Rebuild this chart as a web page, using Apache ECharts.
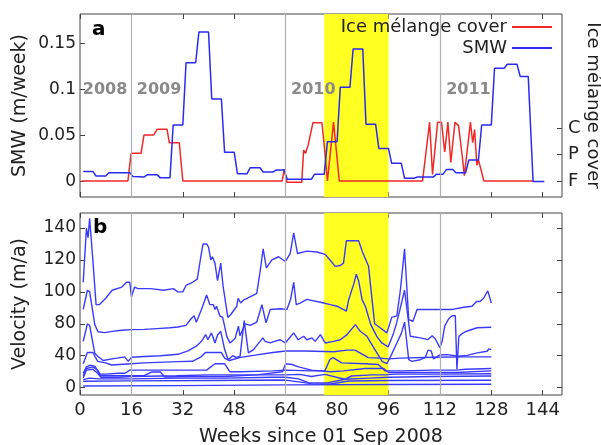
<!DOCTYPE html>
<html>
<head>
<meta charset="utf-8">
<script src="https://cdn.jsdelivr.net/npm/echarts@6/dist/echarts.min.js"></script>
<style>
  html, body { margin: 0; padding: 0; background: #fff; }
  #chart { width: 601px; height: 445px; }
</style>
</head>
<body>
<div id="chart"></div>
<script>
// axis ticks and annotations
const weekTicks = [0, 16, 32, 48, 64, 80, 96, 112, 128, 144]
const smwTicks = [0, 0.05, 0.1, 0.15]
const coverTicks = [0, 1, 2]
const coverLabels = ['F', 'P', 'C']
const velTicks = [0, 40, 80, 100, 120, 140]
const yearLines = [16, 64, 112]
const meltWeeks = [76, 96]
const yearLabels = ['2008', '2009', '2010', '2011']
const yearLabelWeeks = [7.8, 24.6, 72.6, 120.9]

// panel a: submarine melt (m/week) and ice melange cover (F=0, P=1, C=2)
const smw = [[1,0.011],[4,0.011],[5,0.006],[8,0.006],[9,0.0095],[15.5,0.0095],[16.5,0.0055],[20,0.005],[21,0.0075],[24,0.0075],[25,0.004],[28,0.004],[29,0.0614],[32,0.0614],[33,0.129],[36,0.129],[37,0.1625],[40,0.1625],[41,0.0897],[44,0.0897],[45,0.0317],[48,0.0317],[49,0.0085],[52,0.0085],[53,0.015],[56,0.015],[57,0.0103],[60,0.0103],[61,0.0125],[63.5,0.0125],[64.5,0.0024],[72,0.0024],[73,0.008],[76,0.008],[77,0.0433],[80,0.0433],[81,0.1024],[84,0.1024],[85,0.144],[88,0.144],[89,0.0622],[92,0.0622],[93,0.036],[96,0.036],[97,0.0198],[100,0.0198],[101,0.0035],[104,0.0035],[105,0.005],[110,0.005],[111,0.008],[113,0.008],[114,0.013],[116,0.013],[117,0.0096],[120,0.0096],[121,0.0234],[124,0.0234],[125,0.0614],[128,0.0614],[129,0.123],[132,0.123],[133,0.1274],[136,0.1274],[137,0.114],[139.5,0.114],[141,0],[144.5,0]]
const cover = [[0.5,0],[14.9,0],[15.9,1.05],[19,1.05],[19.9,1.74],[22.9,1.74],[24,1.96],[27.1,1.96],[27.8,1.45],[30.9,1.45],[32,0],[62.9,0],[63.6,0.45],[64.4,-0.05],[69,-0.05],[69.6,1.17],[70.2,1.05],[71,1.36],[72.5,2.21],[75.3,2.21],[76.2,1.1],[77,0],[78.9,2.23],[80.7,0],[106.6,0],[108.8,2.23],[109.7,0.25],[111.3,2.23],[112.5,2.23],[113.5,1.1],[114.5,2.23],[115.4,0.7],[116.7,2.23],[117.8,2.1],[119,0.9],[119.6,0.2],[121.5,2.23],[122.2,1.45],[122.8,1.95],[123.5,0.6],[124,0.8],[125.7,0],[141,0]]

// panel b: velocity (m/a) of individual points
const vel1 = [[1,106],[2,140],[2.5,134],[3,146],[4,120],[5,92],[6,92],[8,96],[10,101],[13,103],[14.5,106],[15.5,106],[16,97],[17,103],[18,102],[22,102],[26,101],[29,102],[30.5,100],[32,100],[33,104],[35,106],[36.5,108],[37.6,122],[38.3,130],[39.4,130],[40,128],[40.7,120],[41.2,122],[42,118],[42.8,107],[43.8,118],[44.5,104],[46,84],[47,86],[48.8,91],[49.2,96],[50,93],[51,95],[54,98],[55,99],[56,112],[57,127],[58,115],[59.7,120],[61.8,122],[63.9,119],[65.4,124],[66.5,137],[67.7,124],[70.6,125.5],[73.7,125],[76.3,123.5],[77.8,120],[79.4,116],[81,116.5],[82,118],[82.9,132],[86.7,132],[88,124.5],[89.8,116],[90.9,95],[91.7,80],[93.4,75],[95.5,68.6],[97,84],[98.6,85],[99.7,101],[101,127],[102.3,82.6],[103.6,81.6],[104.9,89],[116,89],[119.4,90.4],[122,91],[123.4,94],[124.5,94],[125.6,96],[126.9,100.6],[128,93]]
const vel2 = [[1,89],[2.3,101],[3,100],[4.6,79],[5.6,70],[7.7,69],[10,70.5],[13,72],[16,72.7],[20,73],[24,74],[28,75],[30.5,76],[33,78],[34.5,83],[35.5,85],[36.2,81],[37.8,89],[39.4,98],[40.4,92],[41.5,92],[42,89],[42.5,91],[43.5,85],[44.4,84],[45.7,64],[46.7,56],[48.3,62],[49.3,77],[49.8,65],[51.4,80],[53,78],[55,81],[56.6,92],[57.9,80.6],[59.2,89],[62.3,89.4],[64.4,89],[65.5,95],[66.5,106],[67.3,92],[68.5,93],[70.6,95.3],[74.8,93.5],[77.9,92],[80,91],[82.9,88],[83.6,95],[85.2,105],[86,111],[86.7,107],[87.8,95],[88.8,91],[90.5,79],[92.4,64],[93.9,56],[95.9,51],[97.6,68.6],[98.6,81],[99.7,90],[101,101],[102.8,64.4],[105.9,62.3],[108.3,60.2],[109.6,65],[110.6,61],[112,50],[112.7,58],[113.5,77],[114.7,83],[115.8,85],[116.8,85],[117.3,23],[117.9,64],[119,68],[120.5,71],[123.6,75],[128,75.7]]
const vel3 = [[1,58],[2.3,80],[3,78],[4.6,43],[5.6,39],[7.2,34],[10,36],[13.9,38.5],[15,33],[16,38],[20,39],[25,40],[30.5,41.8],[33.6,46],[36.2,52],[37.8,58],[39.1,66.5],[39.8,60],[40.9,68.6],[41.5,62],[42,56],[42.8,66],[43.8,70.6],[45,48],[46.1,35],[47.5,40],[48.5,38],[49.8,39],[51.1,82],[52.4,43.5],[54,47.7],[56.9,62.3],[57.6,58],[59.2,56],[60.5,58],[62.3,60],[63.9,56],[66.5,68.6],[67.9,60],[69.6,64.4],[70.6,60],[72.2,62.3],[73.2,58],[74.8,66.5],[76.3,56],[78.9,58],[81,60],[83.1,66.5],[85.7,79],[87.2,70.6],[89.3,64.4],[90.5,56],[92.4,43.5],[94,33],[95.5,30],[97,42],[98.5,55],[100,68],[101,81],[102.3,35],[103.3,33],[105.9,35],[107.5,38],[108.3,47],[109.3,46],[110,36],[112,41],[114.2,41.4],[117.9,39.3],[120.5,40.5],[123.6,43.5],[126.7,45.6],[127.2,48.5],[128,47.7]]
const vel4 = [[1,30],[2.3,44],[4,44],[5.5,33],[8,31],[9.8,28.4],[16,30],[20,31],[30.5,32.6],[35,33],[37.8,39],[39,44],[44,44],[45,37],[46.5,34],[50,38],[55,41],[60,44],[64,46],[70,46],[79,45],[83,47],[85.6,47],[89.7,37.6],[93.4,37],[96,36],[99.6,37],[110,38],[120,38.5],[128,38.5]]
const vel5 = [[1,18],[2,26],[3,28],[4.6,27],[6.1,17],[8,17],[12,18],[14,18],[15.5,22],[20,22],[30,22],[37,22],[39.4,22],[42,30],[45,30],[46.6,20],[50,20],[60,21],[64,22],[72,21],[76.2,21],[77.8,35.5],[78.8,37.6],[81.4,31],[88.7,30],[92.8,29],[95,21],[100,21],[110,22],[117,22],[120,23],[128,24]]
const vel6 = [[1,15],[2,24],[4,26],[5.5,22],[6.5,15],[10,15],[20,15],[22.2,19.6],[25,19.6],[26.4,13.4],[35,14],[45,14],[55,16],[63,20],[64,30],[66,29],[68,26],[72,22],[78,20],[82,21],[88.7,24],[94.5,24],[96,19],[105,19],[117,19],[128,21]]
const vel7 = [[1,12],[2,22],[4,23],[5.5,18],[6.5,13],[12,13],[16,14],[30,15],[40,16],[46,16],[55,16],[64,16],[68.4,16.7],[72,14],[76.2,16.7],[82.4,10.5],[84.5,14.6],[91,16],[95,16],[98,17],[110,17],[128,17.5]]
const vel8 = [[1,10],[3,12],[6,11],[16,11],[30,12],[45,12],[60,13],[64,13],[68,11],[71,6.3],[77,6],[82.4,10.5],[90,12],[96,13],[110,14],[128,14.6]]
const vel9 = [[1,8],[16,8.5],[40,9],[64,9.5],[72,5],[78,4.5],[83.5,8.4],[96,9],[128,9.2]]
const vel10 = [[1,2],[30,2.5],[64,3.5],[96,4],[128,4.2]]
const velLines = [vel1, vel2, vel3, vel4, vel5, vel6, vel7, vel8, vel9, vel10]

// the velocity axis in the figure is spaced evenly by tick, not by value
function toAxis(v) {
  const t = velTicks
  let i = 0
  while (i < t.length - 2 && v > t[i + 1]) i++
  return i + (v - t[i]) / (t[i + 1] - t[i])
}

const font = 'DejaVu Sans'
const ink = '#222'
const frame = '#444'

const chart = echarts.init(document.getElementById('chart'))

const tickOnly = (values) => ({
  axisLine: { show: false, onZero: false },
  splitLine: { show: false },
  axisTick: { show: true, inside: true, length: 5, lineStyle: { color: frame }, customValues: values },
  axisLabel: { show: false },
  nameMoveOverlap: false
})

const weekAxis = (gridIndex, position, labels) => ({
  type: 'value', gridIndex, position, min: 0, max: 150,
  ...tickOnly(weekTicks),
  axisLabel: labels
    ? { show: true, customValues: weekTicks, fontSize: 18, color: ink, fontFamily: font, margin: 6 }
    : { show: false },
  name: labels ? 'Weeks since 01 Sep 2008' : '',
  nameLocation: 'middle', nameGap: 33,
  nameTextStyle: { fontSize: 19, color: ink, fontFamily: font }
})

const yearMarks = {
  silent: true, symbol: 'none', animation: false,
  label: { show: false },
  lineStyle: { color: '#b0b0b0', width: 1.2, type: 'solid' },
  data: yearLines.map(w => ({ xAxis: w }))
}
const meltArea = {
  silent: true,
  itemStyle: { color: '#ffff22' },
  data: [[{ xAxis: meltWeeks[0] }, { xAxis: meltWeeks[1] }]]
}

const series = [
  {
    type: 'line', xAxisIndex: 0, yAxisIndex: 0, data: [], z: 1,
    markArea: meltArea, markLine: yearMarks,
    markPoint: {
      silent: true, symbolSize: 0,
      label: { show: true, position: 'inside', formatter: p => p.name, fontSize: 16, fontWeight: 'bold', color: '#8a8a8a', fontFamily: font },
      data: yearLabels.map((t, i) => ({ name: t, coord: [yearLabelWeeks[i], 0.1] }))
    }
  },
  {
    name: 'Ice mélange cover', type: 'line', xAxisIndex: 0, yAxisIndex: 1, z: 3,
    data: cover, symbol: 'none', lineStyle: { color: '#f02828', width: 1.5 }, itemStyle: { color: '#f02828' }
  },
  {
    name: 'SMW', type: 'line', xAxisIndex: 0, yAxisIndex: 0, z: 3,
    data: smw, symbol: 'none', lineStyle: { color: '#2a2af0', width: 1.5 }, itemStyle: { color: '#2a2af0' }
  },
  {
    type: 'line', xAxisIndex: 2, yAxisIndex: 2, data: [], z: 1,
    markArea: meltArea, markLine: yearMarks
  },
  ...velLines.map(line => ({
    type: 'line', xAxisIndex: 2, yAxisIndex: 2, z: 3,
    data: line.map(([w, v]) => [w, toAxis(v)]),
    symbol: 'none', lineStyle: { color: '#3a3aff', width: 1.4 }
  }))
]

const legendBase = {
  orient: 'horizontal', align: 'right', right: 49, padding: 0,
  icon: 'rect', itemWidth: 40, itemHeight: 2,
  textStyle: { fontSize: 18, color: ink, fontFamily: font }
}

const gridBase = {
  left: 80, right: 39, show: true, borderColor: frame, borderWidth: 1,
  backgroundColor: 'transparent', containLabel: false, outerBoundsMode: 'none'
}

chart.setOption({
  animation: false,
  title: [
    { text: 'a', left: 87, top: 15, textStyle: { fontSize: 20, fontWeight: 'bold', color: '#000', fontFamily: font } },
    { text: 'b', left: 88, top: 213, textStyle: { fontSize: 20, fontWeight: 'bold', color: '#000', fontFamily: font } }
  ],
  legend: [
    { ...legendBase, top: 18, data: ['Ice mélange cover'] },
    { ...legendBase, top: 39, data: ['SMW'] }
  ],
  grid: [
    { ...gridBase, top: 14, height: 183 },
    { ...gridBase, top: 213, height: 182 }
  ],
  xAxis: [
    weekAxis(0, 'bottom', false),
    weekAxis(0, 'top', false),
    weekAxis(1, 'bottom', true),
    weekAxis(1, 'top', false)
  ],
  yAxis: [
    {
      type: 'value', gridIndex: 0, position: 'left', min: -0.0168, max: 0.182,
      ...tickOnly(smwTicks),
      axisLabel: { show: true, customValues: smwTicks, fontSize: 17, color: ink, fontFamily: font, margin: 4 },
      name: 'SMW (m/week)', nameLocation: 'middle', nameGap: 50, nameRotate: 90,
      nameTextStyle: { fontSize: 19, color: ink, fontFamily: font }
    },
    {
      type: 'value', gridIndex: 0, position: 'right', min: -0.606, max: 6.33,
      ...tickOnly(coverTicks),
      axisLabel: { show: true, customValues: coverTicks, formatter: v => coverLabels[Math.round(v)], fontSize: 18, color: ink, fontFamily: font, margin: 6 },
      name: 'Ice mélange cover', nameLocation: 'middle', nameGap: 22, nameRotate: -90,
      nameTextStyle: { fontSize: 18, color: ink, fontFamily: font }
    },
    {
      type: 'value', gridIndex: 1, position: 'left', min: -0.23, max: 5.47,
      ...tickOnly(velTicks.map(toAxis)),
      axisLabel: { show: true, customValues: velTicks.map(toAxis), formatter: v => String(velTicks[Math.round(v)]), fontSize: 17, color: ink, fontFamily: font, margin: 4 },
      name: 'Velocity (m/a)', nameLocation: 'middle', nameGap: 50, nameRotate: 90,
      nameTextStyle: { fontSize: 19, color: ink, fontFamily: font }
    },
    {
      type: 'value', gridIndex: 1, position: 'right', min: -0.23, max: 5.47,
      ...tickOnly(velTicks.map(toAxis))
    }
  ],
  series
})
</script>
</body>
</html>
